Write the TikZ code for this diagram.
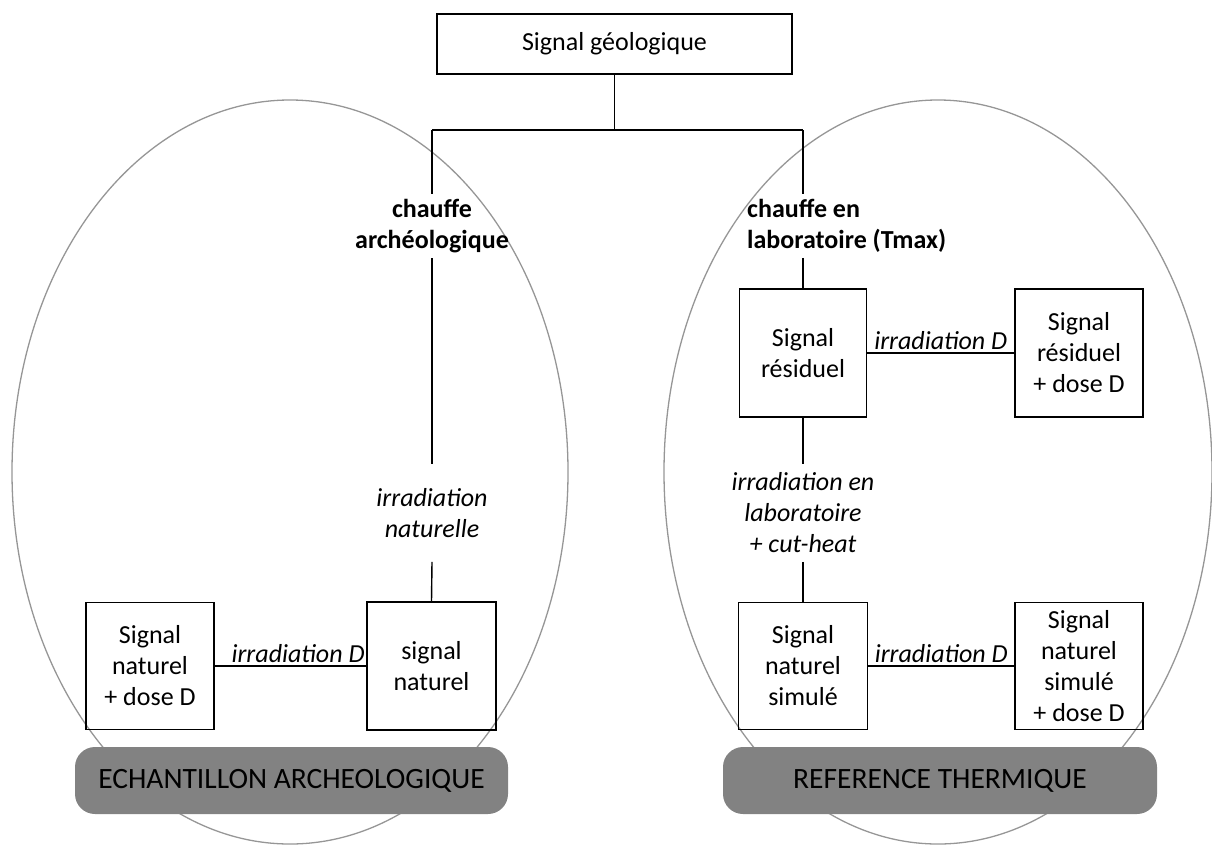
\documentclass[tikz,border=0pt]{standalone}
\usepackage{fontspec}
\setmainfont{Carlito}
\definecolor{ovalgray}{RGB}{150,150,150}
\definecolor{bandgray}{RGB}{130,130,130}
\begin{document}
\begin{tikzpicture}[x=1pt,y=-1pt,
  box/.style={draw, line width=1.6pt, align=center, inner sep=2pt, font=\fontsize{26}{31}\selectfont},
  lab/.style={align=center, inner xsep=2pt, font=\fontsize{26}{31}\selectfont},
  band/.style={fill=bandgray, rounded corners=20pt, minimum width=433pt, minimum height=67pt, inner sep=0pt, font=\fontsize{29.5}{34}\selectfont},
  conn/.style={line width=1.4pt},
  oval/.style={draw=ovalgray, line width=1.3pt}]
\useasboundingbox (0,0) rectangle (1212,844);
% ovals
\draw[oval] (290,472) ellipse [x radius=278pt, y radius=372pt];
\draw[oval] (938,472) ellipse [x radius=274pt, y radius=372pt];
% top
\node[box, minimum width=355pt, minimum height=60pt] (geo) at (614.5,44) {Signal géologique};
\coordinate (jm) at (614.5,130);
\coordinate (jl) at (432,130);
\coordinate (jr) at (803,130);
% left branch
\node[lab, inner ysep=5pt, font=\fontsize{26}{31}\selectfont\bfseries] (ch) at (432,226) {chauffe\\archéologique};
\node[lab, inner ysep=24pt, font=\fontsize{26}{31}\selectfont\itshape] (irn) at (432,513) {irradiation\\naturelle};
\node[box, minimum width=129pt, minimum height=128pt] (sn) at (431.5,666) {signal\\naturel};
\node[box, minimum width=128pt, minimum height=127pt] (snd) at (150,666) {Signal\\naturel\\+ dose D};
% right branch
\node[lab, inner ysep=5pt, anchor=west, align=left, font=\fontsize{26}{31}\selectfont\bfseries] (cl) at (745,226) {chauffe en\\laboratoire (Tmax)};
\node[box, minimum width=127pt, minimum height=128pt] (sr) at (803,353) {Signal\\résiduel};
\node[box, minimum width=128pt, minimum height=128pt] (srd) at (1079,353) {Signal\\résiduel\\+ dose D};
\node[lab, inner ysep=8.5pt, font=\fontsize{26}{31}\selectfont\itshape] (irl) at (803,513) {irradiation en\\laboratoire\\+ cut-heat};
\node[box, minimum width=129pt, minimum height=127pt] (sns) at (803,666) {Signal\\naturel\\simulé};
\node[box, minimum width=128pt, minimum height=127pt] (snsd) at (1079,666) {Signal\\naturel\\simulé\\+ dose D};
% bands
\node[band] (ea) at (291.5,780.5) {ECHANTILLON ARCHEOLOGIQUE};
\node[band, minimum width=434pt] (rt) at (940,780.5) {REFERENCE THERMIQUE};
% connectors
\draw[conn] (geo.south) -- (jm);
\draw[conn] (jl) -- (jr);
\draw[conn] (jl) -- (ch.north);
\draw[conn] (ch.south) -- (irn.north);
\draw[conn] (irn.south) -- (sn.north);
\draw[conn] (jr) -- (jr |- cl.north);
\draw[conn] (jr |- cl.south) -- (sr.north);
\draw[conn] (sr.south) -- (irl.north);
\draw[conn] (irl.south) -- (sns.north);
\draw[conn] (snd) -- node[lab, above, inner sep=3pt, pos=0.55, font=\fontsize{26}{31}\selectfont\itshape] {irradiation D} (sn);
\draw[conn] (sr) -- node[lab, above, inner sep=3pt, font=\fontsize{26}{31}\selectfont\itshape] {irradiation D} (srd);
\draw[conn] (sns) -- node[lab, above, inner sep=3pt, font=\fontsize{26}{31}\selectfont\itshape] {irradiation D} (snsd);
\end{tikzpicture}
\end{document}
